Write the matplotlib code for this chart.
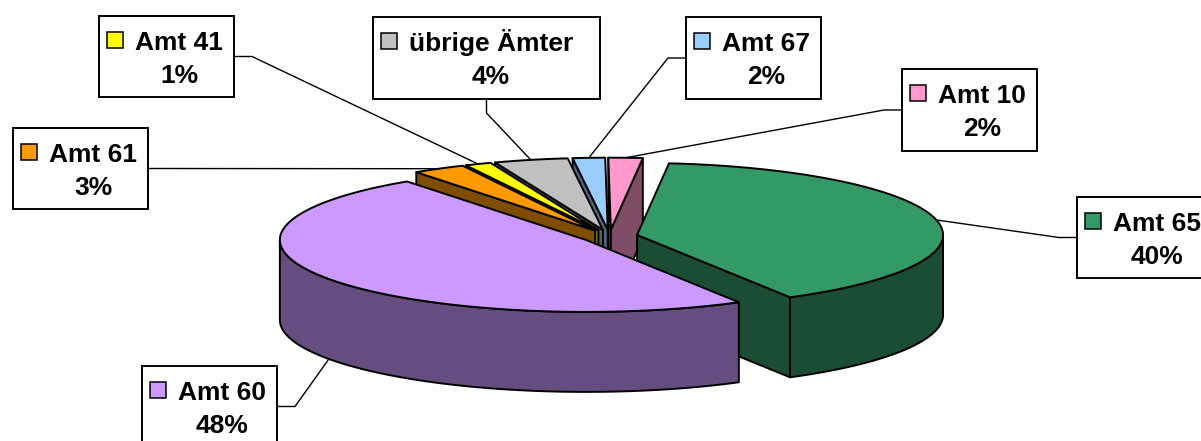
import numpy as np
import matplotlib
matplotlib.use("Agg")
import matplotlib.pyplot as plt
from matplotlib.patches import Polygon, Rectangle
import matplotlib.colors as mcolors

# ---------------- data (slices in clockwise order) ----------------
names = ["Amt 65", "Amt 60", "Amt 61", "Amt 41", "übrige Ämter", "Amt 67", "Amt 10"]
shares = [40.0, 48.4, 2.8, 1.4, 3.9, 1.7, 1.8]          # percent of total
colors = ["#339966", "#CC99FF", "#FF9900", "#FFFF00", "#C0C0C0", "#99CCFF", "#FF99CC"]

# ---------------- layout ----------------
W, H = 1201, 441
CX, CY, RX, RY = 609.5, 236.3, 306.0, 72.0   # ellipse of the pie top
DEPTH = 80.0                                  # thickness in pixels
EXPLODE = 0.092                               # fraction of radius
START = 84.0                                  # angle of first boundary (deg), clockwise

label_boxes = {  # left, top, width, height, side of leader
    "Amt 65": (1077, 197, 136, 81, "left"),
    "Amt 60": (142, 366, 135, 81, "right"),
    "Amt 61": (13, 128, 135, 81, "right"),
    "Amt 41": (99, 16, 135, 81, "right"),
    "übrige Ämter": (373, 17, 227, 82, "bottom"),
    "Amt 67": (686, 17, 135, 82, "left"),
    "Amt 10": (902, 69, 135, 82, "left"),
}

FONT = ["Liberation Sans", "DejaVu Sans"]
FS = 19

fig = plt.figure(figsize=(W / 100, H / 100), dpi=100)
ax = fig.add_axes([0, 0, 1, 1])
ax.set_xlim(0, W)
ax.set_ylim(H, 0)
ax.axis("off")


def shade(c, f=0.5):
    r, g, b = mcolors.to_rgb(c)
    return (r * f, g * f, b * f)


def pt(ox, oy, th, r=1.0, z=0.0):
    t = np.radians(th)
    return (CX + RX * (ox + r * np.cos(t)), CY - RY * (oy + r * np.sin(t)) + z)


# slice geometry
total = sum(shares)
slices = []
cum = 0.0
for name, v, col in zip(names, shares, colors):
    span = 360.0 * v / total
    b = START - cum
    a = b - span
    cum += span
    mid = 0.5 * (a + b)
    ox = EXPLODE * np.cos(np.radians(mid))
    oy = EXPLODE * np.sin(np.radians(mid))
    slices.append(dict(name=name, v=v, col=col, a=a, b=b, mid=mid, ox=ox, oy=oy))

EDGE = dict(edgecolor="black", linewidth=1.4, joinstyle="round")

# walls (sides), painter's order back -> front
walls = []
for s in slices:
    a, b, ox, oy = s["a"], s["b"], s["ox"], s["oy"]
    side = shade(s["col"])
    # radial faces
    for phi, visible in ((a, np.cos(np.radians(a)) > 0), (b, np.cos(np.radians(b)) < 0)):
        if visible:
            p0 = pt(ox, oy, phi, r=0.0)
            p1 = pt(ox, oy, phi)
            poly = [p0, p1, (p1[0], p1[1] + DEPTH), (p0[0], p0[1] + DEPTH)]
            key = oy + 0.5 * np.sin(np.radians(phi))
            walls.append((key, poly, side))
    # outer curved wall where it faces the viewer
    for k in range(-2, 3):
        lo, hi = max(a, -180 + 360 * k), min(b, 360 * k)
        if hi - lo > 0.01:
            th = np.linspace(lo, hi, 120)
            top = [pt(ox, oy, t) for t in th]
            bot = [(x, y + DEPTH) for x, y in top][::-1]
            key = oy + np.mean(np.sin(np.radians(th)))
            walls.append((key, top + bot, side))

walls.sort(key=lambda w: -w[0])
for key, poly, c in walls:
    ax.add_patch(Polygon(poly, closed=True, facecolor=c, **EDGE))

# top faces
for s in slices:
    th = np.linspace(s["a"], s["b"], max(4, int(abs(s["b"] - s["a"]) * 2)))
    poly = [pt(s["ox"], s["oy"], 0, r=0.0)] + [pt(s["ox"], s["oy"], t) for t in th]
    ax.add_patch(Polygon(poly, closed=True, facecolor=s["col"], **EDGE))

# labels with leader lines
fig.canvas.draw()
renderer = fig.canvas.get_renderer()
for s in slices:
    left, top, w, h, side = label_boxes[s["name"]]
    ax.add_patch(Rectangle((left, top), w, h, facecolor="white", edgecolor="black",
                           linewidth=1.4, zorder=5))
    ax.add_patch(Rectangle((left + 8, top + 16), 16, 16, facecolor=s["col"],
                           edgecolor="black", linewidth=1.1, zorder=6))
    t1 = ax.text(left + 36, top + 34, s["name"], fontsize=FS, fontweight="bold",
                 family=FONT, ha="left", va="baseline", zorder=6)
    bb = t1.get_window_extent(renderer)
    cxn = 0.5 * (bb.x0 + bb.x1)
    ax.text(cxn, top + 67, f"{round(s['v'])}%", fontsize=FS, fontweight="bold",
            family=FONT, ha="center", va="baseline", zorder=6)
    # anchor on slice outline
    mid = s["mid"]
    ax_pt = pt(s["ox"], s["oy"], mid)
    if np.sin(np.radians(mid)) < -0.3:
        ax_pt = (ax_pt[0], ax_pt[1] + DEPTH)
    if side == "left":
        e0 = (left, top + h / 2); e1 = (left - 18, top + h / 2)
    elif side == "right":
        e0 = (left + w, top + h / 2); e1 = (left + w + 18, top + h / 2)
    else:
        e0 = (left + w / 2, top + h); e1 = (left + w / 2, top + h + 14)
    ax.plot([e0[0], e1[0], ax_pt[0]], [e0[1], e1[1], ax_pt[1]], color="black",
            linewidth=1.0, zorder=4, solid_joinstyle="miter")

fig.savefig("out.png", dpi=100, facecolor="white")
